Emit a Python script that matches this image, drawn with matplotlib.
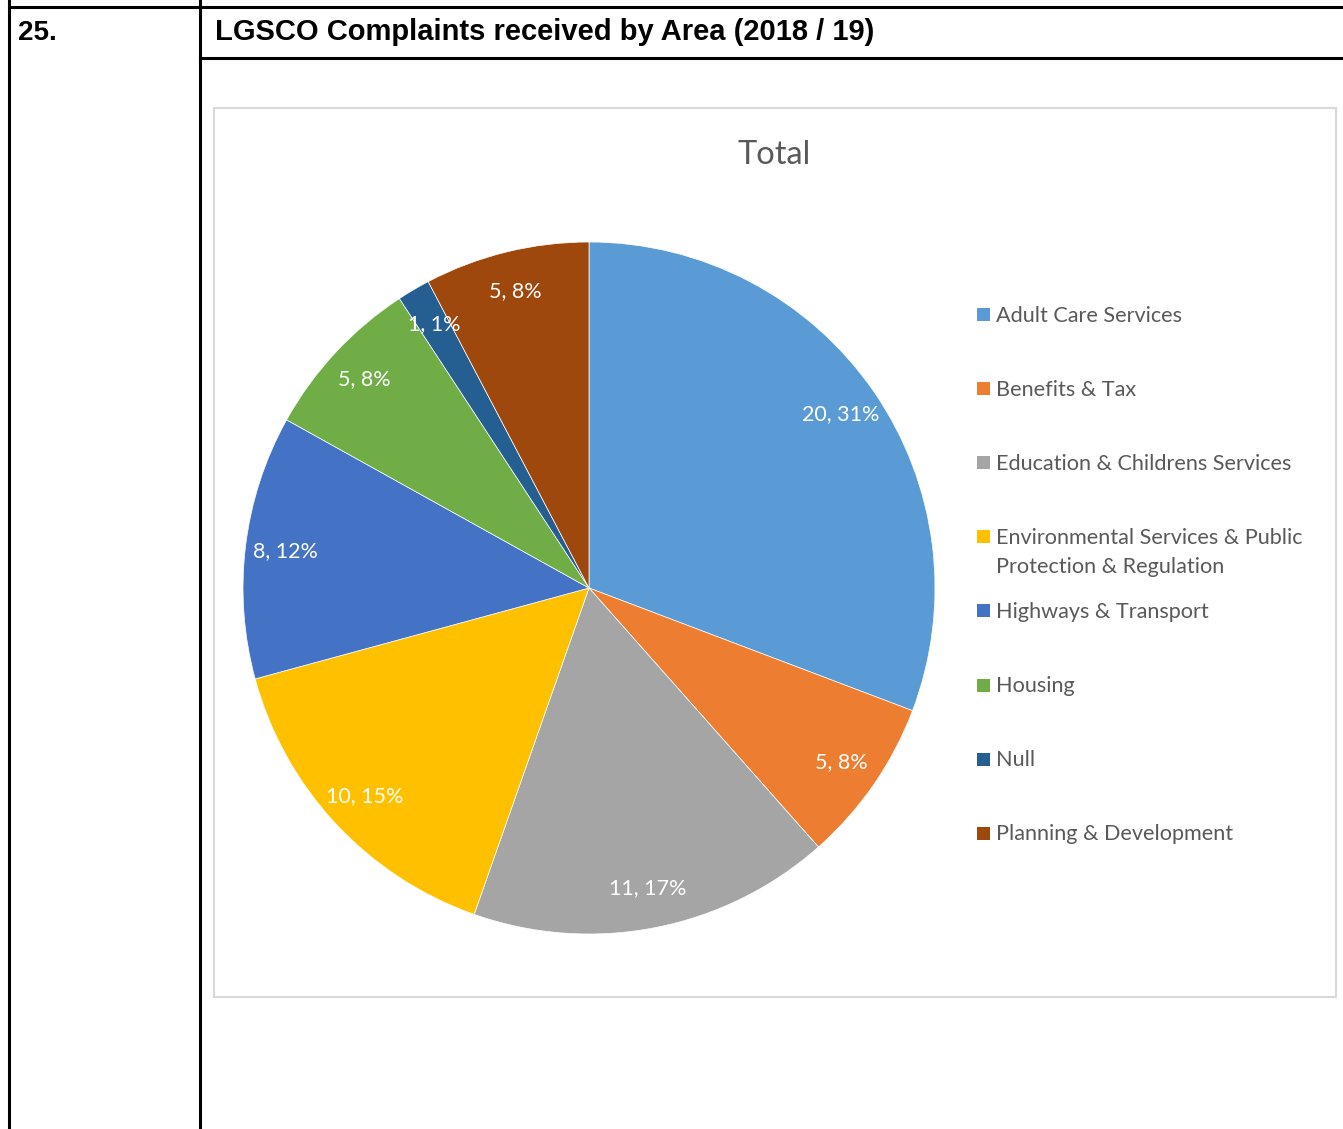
import matplotlib
matplotlib.use('Agg')
import matplotlib.pyplot as plt
from matplotlib.lines import Line2D
from matplotlib.patches import Rectangle

# Data
categories = ['Adult Care Services', 'Benefits & Tax', 'Education & Childrens Services',
              'Environmental Services & Public\nProtection & Regulation', 'Highways & Transport',
              'Housing', 'Null', 'Planning & Development']
counts = [20, 5, 11, 10, 8, 5, 1, 5]
pct_labels = ['31%', '8%', '17%', '15%', '12%', '8%', '1%', '8%']
colors = ['#5B9BD5', '#ED7D31', '#A5A5A5', '#FFC000', '#4472C4', '#70AD47', '#255E91', '#9E480E']

W, H = 1343, 1129
DPI = 100
TEXT_FONT = ['Lato', 'DejaVu Sans']
GREY_TEXT = '#595959'


def fx(px):
    return px / W


def fy(py):
    return 1 - py / H


fig = plt.figure(figsize=(W / DPI, H / DPI), dpi=DPI)
fig.patch.set_facecolor('white')

# Table frame (document layout round the chart)
def hline(y, x0, x1, lw=2.2, color='black'):
    fig.add_artist(Line2D([fx(x0), fx(x1)], [fy(y), fy(y)], lw=lw, color=color))


def vline(x, y0, y1, lw=2.2, color='black'):
    fig.add_artist(Line2D([fx(x), fx(x)], [fy(y0), fy(y1)], lw=lw, color=color))


hline(7, 9, W)
hline(58, 200, W)
vline(9, 0, H)
vline(200, 0, H)

fig.text(fx(18), fy(39.5), '25.', fontsize=20, fontweight='bold',
         family='Liberation Sans', va='baseline', ha='left')
fig.text(fx(215), fy(39.5), 'LGSCO Complaints received by Area (2018 / 19)', fontsize=21,
         fontweight='bold', family='Liberation Sans', va='baseline', ha='left')

# Chart area border
fig.add_artist(Rectangle((fx(214), fy(997)), fx(1336) - fx(214), fy(108) - fy(997),
                         fill=False, edgecolor='#D9D9D9', lw=1.5))

fig.text(fx(774), fy(164), 'Total', fontsize=23.5, color=GREY_TEXT, family=TEXT_FONT,
         ha='center', va='baseline')

# Pie
cx, cy, r = 589, 588, 346
ax = fig.add_axes([fx(cx - r), fy(cy + r), 2 * r / W, 2 * r / H])
label_iter = iter([f'{c}, {p}' for c, p in zip(counts, pct_labels)])
wedges, texts, autotexts = ax.pie(counts, colors=colors, startangle=90, counterclock=False,
                                  radius=1, autopct=lambda p: next(label_iter), pctdistance=0.885,
                                  wedgeprops=dict(edgecolor='white', linewidth=0.5))
for t in autotexts:
    t.set_color('white')
    t.set_fontsize(15.5)
    t.set_family(TEXT_FONT)
ax.set_xlim(-1, 1)
ax.set_ylim(-1, 1)
ax.set_aspect('equal')
ax.axis('off')

# Legend, drawn by hand to keep Excel's even row spacing
row_top = 314.5
row_step = 74.1
line_gap = 29
for i, (name, col) in enumerate(zip(categories, colors)):
    y = row_top + i * row_step
    extra = name.count('\n') * line_gap
    fig.add_artist(Rectangle((fx(977), fy(y + 6.5)), 13 / W, 13 / H, facecolor=col, edgecolor='none'))
    fig.text(fx(996), fy(y + 7 + extra), name, fontsize=15.6, color=GREY_TEXT, family=TEXT_FONT,
             ha='left', va='baseline', linespacing=1.58)

fig.savefig('out.png', dpi=DPI, facecolor='white')
